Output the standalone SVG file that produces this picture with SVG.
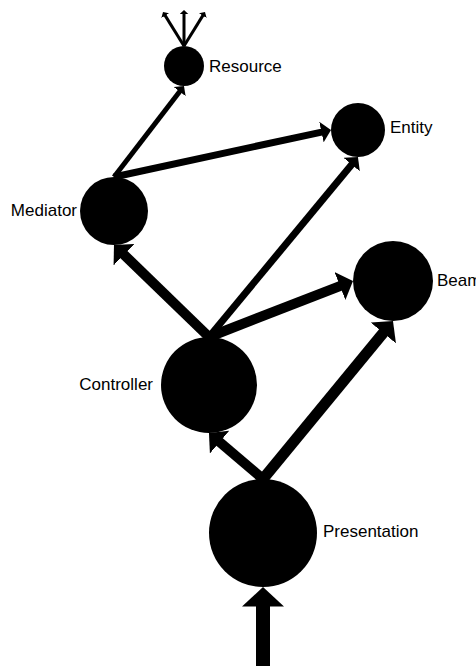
<svg xmlns="http://www.w3.org/2000/svg" width="476" height="666" viewBox="0 0 476 666">
<style>
.node circle{fill:#000}
.node text{font-family:"Liberation Sans",Arial,sans-serif;font-size:17px;fill:#000}
.edge{stroke:#000;fill:none;stroke-linecap:butt}
</style>
<defs>
<marker id="ah" viewBox="0 0 14 30" markerWidth="1.4" markerHeight="3" refX="2" refY="15" markerUnits="strokeWidth" orient="auto">
<path d="M0,0 L14,15 L0,30 Z" fill="#000"/>
</marker>
</defs>
<rect width="476" height="666" fill="#fff"/>
<g id="connectors">
<line class="edge" x1="263" y1="670" x2="263" y2="603.8" stroke-width="14" marker-end="url(#ah)"/>
<line class="edge" x1="263" y1="479" x2="218.1" y2="440.8" stroke-width="10" marker-end="url(#ah)"/>
<line class="edge" x1="263" y1="479" x2="384.6" y2="331.2" stroke-width="11" marker-end="url(#ah)"/>
<line class="edge" x1="209" y1="337" x2="122.6" y2="253.3" stroke-width="10" marker-end="url(#ah)"/>
<line class="edge" x1="209" y1="337" x2="352.6" y2="163.5" stroke-width="7" marker-end="url(#ah)"/>
<line class="edge" x1="209" y1="337" x2="341.8" y2="285.3" stroke-width="10" marker-end="url(#ah)"/>
<line class="edge" x1="114" y1="177" x2="180.3" y2="90.8" stroke-width="5" marker-end="url(#ah)"/>
<line class="edge" x1="114" y1="177" x2="322.8" y2="131.8" stroke-width="7" marker-end="url(#ah)"/>
<line class="edge" x1="184" y1="46" x2="164.9" y2="15.1" stroke-width="3" marker-end="url(#ah)"/>
<line class="edge" x1="184" y1="46" x2="184" y2="13.6" stroke-width="3" marker-end="url(#ah)"/>
<line class="edge" x1="184" y1="46" x2="203.1" y2="15.1" stroke-width="3" marker-end="url(#ah)"/>
</g>
<g id="resource" class="node"><circle cx="184" cy="66" r="20"/><text x="209" y="72">Resource</text></g>
<g id="entity" class="node"><circle cx="358" cy="130" r="27"/><text x="390" y="133">Entity</text></g>
<g id="mediator" class="node"><circle cx="114" cy="211" r="34"/><text x="77" y="216" text-anchor="end">Mediator</text></g>
<g id="beam" class="node"><circle cx="393" cy="281" r="40"/><text x="437" y="286">Beam</text></g>
<g id="controller" class="node"><circle cx="209" cy="385" r="48"/><text x="153" y="390" text-anchor="end">Controller</text></g>
<g id="presentation" class="node"><circle cx="263" cy="533" r="54"/><text x="323" y="537">Presentation</text></g>
</svg>
